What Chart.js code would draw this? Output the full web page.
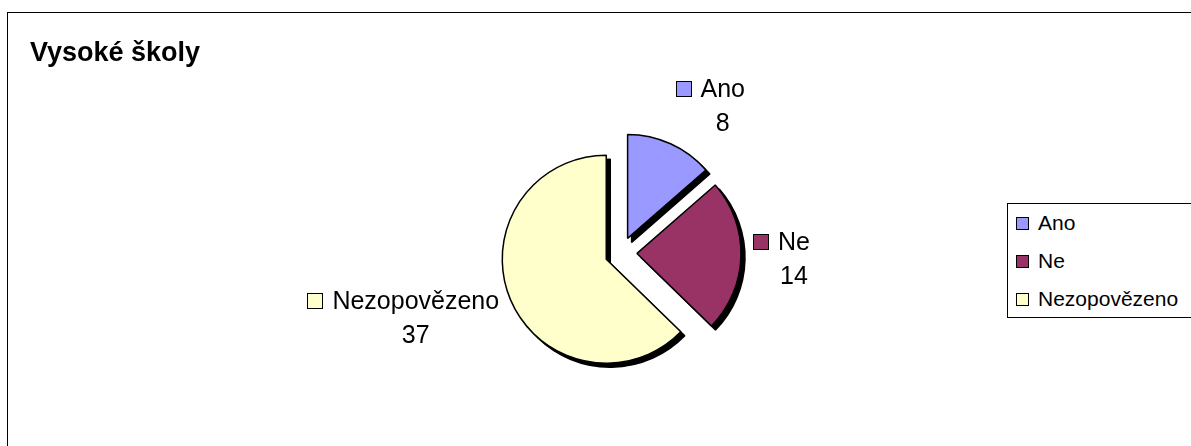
<!DOCTYPE html>
<html><head><meta charset="utf-8">
<script src="https://cdn.jsdelivr.net/npm/chart.js@4.4.1/dist/chart.umd.min.js"></script>
<style>
html,body{margin:0;padding:0;width:1191px;height:446px;overflow:hidden;background:#fff;font-family:"Liberation Sans",Arial,sans-serif;color:#000}
#frame{position:absolute;left:7px;top:12px;width:1300px;height:600px;border:1px solid #000;box-sizing:border-box}
#c{position:absolute;left:0;top:0}
#title{position:absolute;left:30px;top:39px;font-weight:bold;font-size:27px;line-height:27px;white-space:nowrap}
.lbl{position:absolute;display:flex;align-items:flex-start;font-size:25px;line-height:34px;white-space:nowrap}
.lbl .key{width:16px;height:16px;border:1px solid #000;box-sizing:border-box;margin-top:10px;margin-right:9px;flex:none}
.lbl .txt{text-align:center}
#legend{position:absolute;left:1007px;top:203px;width:250px;height:115px;border:1px solid #000;box-sizing:border-box;padding-left:8px;font-size:21px;line-height:38px;background:#fff}
#legend .row{display:flex;align-items:flex-start;white-space:nowrap}
#legend .key{width:13px;height:13px;border:1px solid #000;box-sizing:border-box;margin-top:13px;margin-right:9px;flex:none}
</style>
</head>
<body>
<div id="frame"></div>
<canvas id="c" width="1191" height="446"></canvas>
<div id="title">Vysoké školy</div>
<div id="legend"></div>
<div id="labels"></div>
<script>
const categories = ['Ano', 'Ne', 'Nezopovězeno'];
const values = [8, 14, 37];
const colors = ['#9999FF', '#993366', '#FFFFCC'];

const explode = 16;   // distance each slice is pulled out of the pie
const shadowShift = 4;

// legend (HTML, from data)
const legend = document.getElementById('legend');
categories.forEach((c, i) => {
  const row = document.createElement('div');
  row.className = 'row';
  const k = document.createElement('span');
  k.className = 'key';
  k.style.background = colors[i];
  const t = document.createElement('span');
  t.textContent = c;
  row.appendChild(k); row.appendChild(t);
  legend.appendChild(row);
});

// data labels (HTML, positioned from arc geometry)
const labelsBox = document.getElementById('labels');
const labelEls = categories.map((c, i) => {
  const d = document.createElement('div');
  d.className = 'lbl';
  const k = document.createElement('span');
  k.className = 'key';
  k.style.background = colors[i];
  const t = document.createElement('div');
  t.className = 'txt';
  const l1 = document.createElement('div'); l1.textContent = c;
  const l2 = document.createElement('div'); l2.textContent = String(values[i]);
  t.appendChild(l1); t.appendChild(l2);
  d.appendChild(k); d.appendChild(t);
  labelsBox.appendChild(d);
  return d;
});

function sliceShift(arc) {
  const p = arc.getProps(['startAngle', 'endAngle'], true);
  const m = (p.startAngle + p.endAngle) / 2;
  return [Math.cos(m) * explode, Math.sin(m) * explode];
}

// draws the library's arc elements pulled out along their bisector, with a hard drop shadow
const explodePlugin = {
  id: 'explodeShadow',
  beforeDatasetsDraw(chart) {
    const meta = chart.getDatasetMeta(0);
    const ctx = chart.ctx;
    meta.data.forEach(arc => {
      const [sx, sy] = sliceShift(arc);
      const orig = arc.options;
      arc.options = Object.assign({}, orig, {backgroundColor: '#000', borderColor: '#000'});
      ctx.save();
      ctx.translate(sx + shadowShift, sy + shadowShift);
      arc.draw(ctx);
      ctx.restore();
      arc.options = orig;
    });
    meta.data.forEach(arc => {
      const [sx, sy] = sliceShift(arc);
      ctx.save();
      ctx.translate(sx, sy);
      arc.draw(ctx);
      ctx.restore();
    });
    return false;
  }
};

const labelPlugin = {
  id: 'htmlLabels',
  afterDraw(chart) {
    const meta = chart.getDatasetMeta(0);
    meta.data.forEach((arc, i) => {
      const p = arc.getProps(['x', 'y', 'startAngle', 'endAngle', 'outerRadius'], true);
      const mid = (p.startAngle + p.endAngle) / 2;
      const dx = Math.cos(mid), dy = Math.sin(mid);
      const D = p.outerRadius + 28;
      const el = labelEls[i];
      const w = el.offsetWidth, h = 52;
      const px = p.x + D * dx, py = p.y + D * dy;
      const fx = Math.max(-1, Math.min(1, 2.5 * dx));
      const fy = Math.max(-1.3, Math.min(1.3, 1.2 * dy));
      const cx = px + fx * w / 2, cy = py + fy * h / 2;
      el.style.left = (cx - w / 2) + 'px';
      el.style.top = (cy - 33.75) + 'px';
    });
  }
};

new Chart(document.getElementById('c'), {
  type: 'pie',
  data: {
    labels: categories,
    datasets: [{
      data: values,
      backgroundColor: colors,
      borderColor: '#000',
      borderWidth: 1.5,
      offset: 0,
      hoverOffset: 0,
      radius: 104
    }]
  },
  options: {
    responsive: false,
    animation: false,
    events: [],
    radius: 104,
    layout: {padding: {left: 51, top: 60, right: 0, bottom: 0}},
    plugins: {legend: {display: false}, tooltip: {enabled: false}}
  },
  plugins: [explodePlugin, labelPlugin]
});
</script>
</body></html>
